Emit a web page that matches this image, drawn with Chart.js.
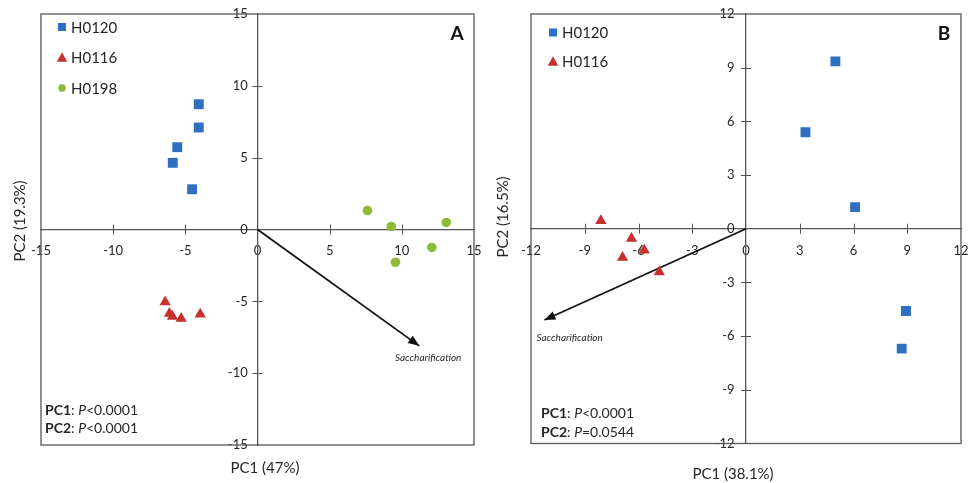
<!DOCTYPE html>
<html><head><meta charset="utf-8">
<script src="https://cdn.jsdelivr.net/npm/chart.js@4/dist/chart.umd.min.js"></script>
<style>
html,body{margin:0;padding:0;background:#fff;width:968px;height:483px;overflow:hidden}
canvas{position:absolute;top:0}
#ca{left:0}
#cb{left:484px}
</style></head><body>
<canvas id="ca" width="484" height="483"></canvas>
<canvas id="cb" width="484" height="483"></canvas>
<script>
// ---------- Panel A data ----------
const aNames = ['H0120', 'H0116', 'H0198'];
const aH0120X = [-4.07, -4.07, -5.56, -5.87, -4.53];
const aH0120Y = [8.72, 7.10, 5.73, 4.64, 2.80];
const aH0116X = [-6.40, -6.10, -5.89, -5.29, -3.97];
const aH0116Y = [-5.05, -5.85, -6.05, -6.20, -5.90];
const aH0198X = [7.62, 9.27, 13.08, 12.08, 9.56];
const aH0198Y = [1.32, 0.21, 0.49, -1.25, -2.28];
const aArrow = [11.2, -8.1];
const aLimit = 15, aStep = 5;
const aXTitle = 'PC1 (47%)', aYTitle = 'PC2 (19.3%)';
const aStats = [['PC1', '<0.0001'], ['PC2', '<0.0001']];

// ---------- Panel B data ----------
const bNames = ['H0120', 'H0116'];
const bH0120X = [4.99, 3.32, 6.09, 8.93, 8.69];
const bH0120Y = [9.35, 5.39, 1.21, -4.60, -6.70];
const bH0116X = [-8.10, -6.39, -5.68, -6.89, -4.84];
const bH0116Y = [0.45, -0.55, -1.20, -1.60, -2.42];
const bArrow = [-11.25, -5.1];
const bLimit = 12, bStep = 3;
const bXTitle = 'PC1 (38.1%)', bYTitle = 'PC2 (16.5%)';
const bStats = [['PC1', '<0.0001'], ['PC2', '=0.0544']];

const COLORS = {H0120: '#2f6fc2', H0116: '#c9302d', H0198: '#90bb38'};
const STYLES = {H0120: 'rect', H0116: 'triangle', H0198: 'circle'};
const RADIUS = {H0120: 7, H0116: 6.5, H0198: 4.8};
const FONT = 'Lato, "Open Sans", sans-serif';
const AXIS = '#555';
const TEXT = '#262626';

function pts(xs, ys) { return xs.map((x, i) => ({x: x, y: ys[i]})); }

function shape(ctx, style, x, y, s) {
  ctx.beginPath();
  if (style === 'rect') {
    ctx.rect(x - s / 2, y - s / 2, s, s);
  } else if (style === 'triangle') {
    ctx.moveTo(x, y - s * 0.55);
    ctx.lineTo(x + s * 0.55, y + s * 0.45);
    ctx.lineTo(x - s * 0.55, y + s * 0.45);
    ctx.closePath();
  } else {
    ctx.arc(x, y, s / 2, 0, Math.PI * 2);
  }
  ctx.fill();
}

const deco = {
  id: 'deco',
  afterDatasetsDraw(chart, args, o) {
    const {ctx, chartArea: a, scales} = chart;
    const x = scales.x, y = scales.y;
    ctx.save();
    // frame
    ctx.strokeStyle = AXIS; ctx.lineWidth = 1.3;
    ctx.strokeRect(a.left, a.top, a.right - a.left, a.bottom - a.top);
    // crossing tick marks
    const x0 = x.getPixelForValue(0), y0 = y.getPixelForValue(0);
    ctx.beginPath();
    x.ticks.forEach(t => {
      if (t.value === 0 || Math.abs(t.value) >= x.max) return;
      const px = Math.round(x.getPixelForValue(t.value)) + 0.5;
      ctx.moveTo(px, y0 - 5); ctx.lineTo(px, y0 + 5);
    });
    y.ticks.forEach(t => {
      if (t.value === 0 || Math.abs(t.value) >= y.max) return;
      const py = Math.round(y.getPixelForValue(t.value)) + 0.5;
      ctx.moveTo(x0 - 5, py); ctx.lineTo(x0 + 5, py);
    });
    ctx.lineWidth = 1; ctx.stroke();
    // arrow head
    const idx = chart.data.datasets.findIndex(d => d.isArrow);
    const meta = chart.getDatasetMeta(idx);
    const p0 = meta.data[0], p1 = meta.data[1];
    const ang = Math.atan2(p1.y - p0.y, p1.x - p0.x);
    const L = 11, W = 4.5;
    ctx.fillStyle = '#111';
    ctx.beginPath();
    ctx.moveTo(p1.x, p1.y);
    ctx.lineTo(p1.x - L * Math.cos(ang) + W * Math.sin(ang), p1.y - L * Math.sin(ang) - W * Math.cos(ang));
    ctx.lineTo(p1.x - L * Math.cos(ang) - W * Math.sin(ang), p1.y - L * Math.sin(ang) + W * Math.cos(ang));
    ctx.closePath(); ctx.fill();
    // arrow label
    ctx.font = 'italic 10px ' + FONT;
    ctx.fillStyle = TEXT;
    ctx.textAlign = o.labelAlign; ctx.textBaseline = 'middle';
    ctx.fillText('Saccharification', p1.x + o.labelDX, p1.y + o.labelDY);
    // legend
    ctx.textAlign = 'left';
    chart.data.datasets.forEach((d, i) => {
      if (d.isArrow) return;
      const ly = a.top + o.legY + i * o.legGap;
      ctx.fillStyle = d.backgroundColor;
      shape(ctx, d.pointStyle, a.left + o.legX, ly, d.pointStyle === 'circle' ? 7.5 : (d.pointStyle === 'rect' ? 8 : 9.5));
      ctx.fillStyle = TEXT;
      ctx.font = '15px ' + FONT;
      ctx.fillText(d.label, a.left + o.legX + 9, ly + 1);
    });
    // panel letter
    ctx.font = 'bold 19px ' + FONT;
    ctx.textAlign = 'center';
    ctx.fillStyle = '#111';
    ctx.fillText(o.letter, a.right - 17, a.top + 20);
    // statistics
    ctx.fillStyle = TEXT;
    ctx.textAlign = 'left';
    o.stats.forEach((s, i) => {
      let tx = a.left + o.statX;
      const ty = a.bottom - o.statY + i * 18.5;
      const parts = [['bold 14px ', s[0]], ['14px ', ': '], ['italic 14px ', 'P'], ['14px ', s[1]]];
      parts.forEach(p => {
        ctx.font = p[0] + FONT;
        ctx.fillText(p[1], tx, ty);
        tx += ctx.measureText(p[1]).width;
      });
    });
    // axis titles
    ctx.font = '15px ' + FONT;
    ctx.textAlign = 'center';
    ctx.fillText(o.xTitle, o.xTitleX, o.xTitleY);
    ctx.translate(o.yTitleX, o.yTitleY);
    ctx.rotate(-Math.PI / 2);
    ctx.fillText(o.yTitle, 0, 0);
    ctx.restore();
  }
};

function noPad(scale) {
  scale.paddingLeft = 0; scale.paddingRight = 0; scale.paddingTop = 0; scale.paddingBottom = 0;
}

function makeChart(id, cfg) {
  const datasets = cfg.series.map(s => ({
    label: s.name,
    data: pts(s.x, s.y),
    pointStyle: STYLES[s.name],
    pointRadius: RADIUS[s.name],
    pointHoverRadius: RADIUS[s.name],
    backgroundColor: COLORS[s.name],
    borderColor: COLORS[s.name],
    borderWidth: 0
  }));
  datasets.push({
    type: 'line', label: 'Saccharification', isArrow: true,
    data: [{x: 0, y: 0}, {x: cfg.arrow[0], y: cfg.arrow[1]}],
    borderColor: '#111', borderWidth: 1.8, pointRadius: 0, fill: false, showLine: true
  });
  const tickFont = {family: FONT, size: 13};
  return new Chart(document.getElementById(id), {
    type: 'scatter',
    data: {datasets: datasets},
    options: {
      responsive: false, animation: false,
      layout: {padding: cfg.pad},
      plugins: {legend: {display: false}, tooltip: {enabled: false}, deco: cfg.deco},
      scales: {
        x: {
          type: 'linear', position: {y: 0}, min: -cfg.limit, max: cfg.limit,
          ticks: {stepSize: cfg.step, autoSkip: false, maxRotation: 0, padding: cfg.xPad, color: TEXT, font: tickFont},
          grid: {drawOnChartArea: false, drawTicks: false},
          border: {color: AXIS, width: 1.3},
          afterFit: noPad
        },
        y: {
          type: 'linear', position: {x: 0}, min: -cfg.limit, max: cfg.limit,
          ticks: {stepSize: cfg.step, autoSkip: false, color: TEXT, font: tickFont,
                  callback: v => String(v) + cfg.ySpace},
          grid: {drawOnChartArea: false, drawTicks: false},
          border: {color: AXIS, width: 1.3},
          afterFit: noPad
        }
      }
    },
    plugins: [deco]
  });
}

makeChart('ca', {
  series: [
    {name: aNames[0], x: aH0120X, y: aH0120Y},
    {name: aNames[1], x: aH0116X, y: aH0116Y},
    {name: aNames[2], x: aH0198X, y: aH0198Y}
  ],
  arrow: aArrow, limit: aLimit, step: aStep,
  pad: {left: 41, right: 10, top: 14, bottom: 38},
  xPad: 14, ySpace: '\u2003',
  deco: {letter: 'A', stats: aStats, statX: 4, statY: 35, legX: 21, legY: 13, legGap: 30.5,
         labelAlign: 'center', labelDX: 9, labelDY: 12,
         xTitle: aXTitle, xTitleX: 265, xTitleY: 468, yTitle: aYTitle, yTitleX: 20, yTitleY: 221}
});

makeChart('cb', {
  series: [
    {name: bNames[0], x: bH0120X, y: bH0120Y},
    {name: bNames[1], x: bH0116X, y: bH0116Y}
  ],
  arrow: bArrow, limit: bLimit, step: bStep,
  pad: {left: 47, right: 6, top: 14, bottom: 39.5},
  xPad: 14, ySpace: '\u2003\u2009',
  deco: {letter: 'B', stats: bStats, statX: 10, statY: 30, legX: 22, legY: 18.5, legGap: 29,
         labelAlign: 'left', labelDX: -8, labelDY: 18,
         xTitle: bXTitle, xTitleX: 249, xTitleY: 474, yTitle: bYTitle, yTitleX: 19, yTitleY: 217}
});
</script>
</body></html>
